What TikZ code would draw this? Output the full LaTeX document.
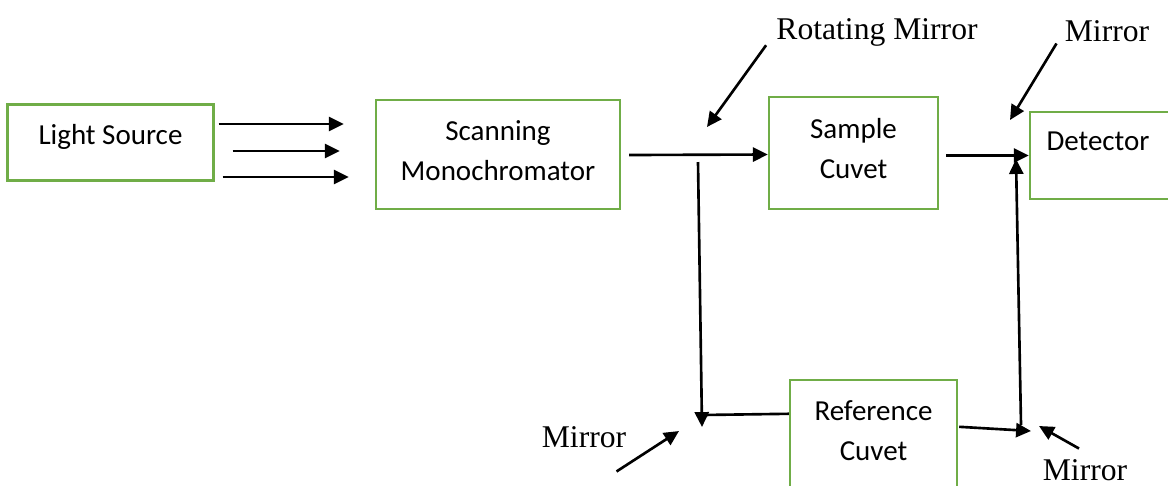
\documentclass[tikz,border=0pt]{standalone}
\usepackage{fontspec}
\setmainfont{Liberation Serif}
\newfontfamily\boxfont{Carlito}
\usetikzlibrary{positioning,arrows.meta,calc}
\definecolor{boxgreen}{HTML}{70AD47}

\tikzset{
  box/.style={draw=boxgreen, line width=1.4pt, inner sep=0pt, align=center,
    text depth=5pt, font=\boxfont\fontsize{16.5}{22.8}\selectfont},
  btxt/.style={inner sep=0pt, align=center,
    font=\boxfont\fontsize{16.5}{22.8}\selectfont},
  lbl/.style={inner sep=0pt, font=\fontsize{18}{20}\selectfont},
  ray/.style={line width=1.5pt, -{Triangle[length=8.5pt,width=8pt]}},
  beam/.style={line width=1.5pt}
}

\begin{document}
\begin{tikzpicture}[x=0.02cm, y=-0.02cm]
  \useasboundingbox (0,0) rectangle (1168,485);
  % Boxes
  \node[box, minimum width=4.12cm, minimum height=1.52cm, text depth=9pt] (light) at (110.5,142.5) {Light Source};
  \node[box, minimum width=4.88cm, minimum height=2.18cm] (mono) at (498,154.5) {Scanning\\Monochromator};
  \node[box, minimum width=3.38cm, minimum height=2.24cm] (sample) at (853.5,153) {Sample\\Cuvet};
  \node[box, minimum width=3.0cm, minimum height=1.74cm] (det) at (1105,155.5) {};
  \node[btxt] (dettxt) at (1098,141) {Detector};
  \node[box, minimum width=3.34cm, minimum height=2.6cm] (ref) at (873.5,445) {};
  \node[btxt] (reftxt) at (873.5,431) {Reference\\Cuvet};
  % Mirror points
  \coordinate (rm) at (698,162);
  \coordinate (m1) at (702,427);
  \coordinate (m2) at (1031,431);
  \coordinate (m3) at (1016,159);
  % Light from the source
  \draw[ray] ([shift={(4,-18.5)}]light.east) -- ++(125,0);
  \draw[ray] ([shift={(18,8.5)}]light.east) -- ++(107,0);
  \draw[ray] ([shift={(8,34.5)}]light.east) -- ++(126,0);
  % Sample beam
  \draw[ray] ($(mono.east)+(8,0.5)$) -- (mono.east -| sample.west);
  \draw[ray] ($(sample.east |- det.west)+(7,0)$) -- (det.west);
  % Reference beam
  \draw[ray] (rm) -- (m1);
  \draw[beam] ($(ref.north west)+(0,35)$) -- ($(m1)+(0,-12)$);
  \draw[ray] ($(ref.north east)+(1,48)$) -- (m2);
  \draw[ray] ($(m2)+(-10,-6)$) -- (m3);
  % Labels
  \node[lbl] (rotlbl) at (877,32) {Rotating Mirror};
  \node[lbl] (mtop) at (1107,31) {Mirror};
  \node[lbl] (mbl) at (584,437) {Mirror};
  \node[lbl] (mbr) at (1085,470) {Mirror};
  % Pointers
  \draw[ray] ($(rotlbl.south west)+(-10,-1)$) -- ($(rm)+(9,-35)$);
  \draw[ray] ($(mtop.south west)+(-8,1.5)$) -- ($(m3)+(-6,-39)$);
  \draw[ray] ($(mbl.south east)+(-10,23.5)$) -- ($(m1)+(-23,4)$);
  \draw[ray] ($(mbr.north)+(-6,-10.5)$) -- ($(m2)+(8,-5)$);
\end{tikzpicture}
\end{document}
